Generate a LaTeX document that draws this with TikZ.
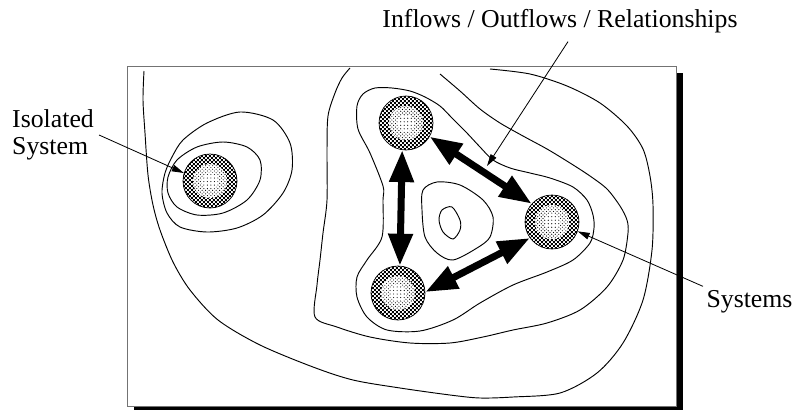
\documentclass[tikz,border=0pt]{standalone}
\usepackage{fontspec}
\setmainfont{Liberation Serif}
\usetikzlibrary{arrows.meta,patterns}
\pgfdeclarepatternformonly{finechecker}{\pgfpointorigin}{\pgfqpoint{3.4pt}{3.4pt}}{\pgfqpoint{3.4pt}{3.4pt}}{
  \pgfpathrectangle{\pgfpointorigin}{\pgfqpoint{1.7pt}{1.7pt}}
  \pgfpathrectangle{\pgfqpoint{1.7pt}{1.7pt}}{\pgfqpoint{1.7pt}{1.7pt}}
  \pgfusepath{fill}}

\begin{document}
\begin{tikzpicture}[x=0.3mm,y=-0.3mm,
  sys/.style={circle,draw,line width=0.6pt,minimum size=16.2mm,inner sep=0pt,pattern=finechecker,
    path picture={\fill[white] (path picture bounding box.center) circle (5.1mm);
      \fill[pattern=crosshatch dots] (path picture bounding box.center) circle (5.1mm);
      \fill[white] (path picture bounding box.center) circle (2.6mm);
      \fill[pattern=dots] (path picture bounding box.center) circle (2.6mm);}},
  flow/.style={{Triangle[length=9.6mm,width=7mm]}-{Triangle[length=9.6mm,width=7mm]},line width=2.1mm},
  ptr/.style={-{Triangle[length=3.6mm,width=2mm]},line width=0.7pt},
  isoline/.style={line width=0.8pt},
  lbl/.style={font=\fontsize{22}{23}\selectfont}]
\useasboundingbox (0,0) rectangle (800,410);
\fill (134,73) rectangle (683,410);
\draw[black!55,line width=0.8pt,fill=white] (127,66) rectangle (676,406);
\draw[isoline] plot[smooth] coordinates {(144,71) (143,100) (145,133) (148,175) (153,205) (160,230) (173,262) (190,290) (218,320) (260,345) (313,367) (353,380) (400,388) (450,395) (480,398) (513,397) (560,393) (597,373) (623,343) (643,300) (652,250) (653,205) (650,176) (643,149) (627,126) (600,103) (567,86) (530,74) (490,69)};
\draw[isoline] plot[smooth cycle] coordinates {(240,112) (207,123) (183,140) (172,157) (165,173) (162,193) (167,213) (180,227) (207,232) (237,228) (263,215) (283,193) (292,170) (290,143) (273,120)};
\draw[isoline] plot[smooth cycle] coordinates {(168,177) (177,160) (197,147) (223,142) (247,147) (260,160) (260,180) (247,200) (223,213) (197,215) (177,207) (168,193)};
\draw[isoline] plot[smooth] coordinates {(350,68) (342,78) (335,93) (328,116) (327,150) (327,200) (323,233) (320,260) (317,285) (315,317) (337,327) (370,337) (410,343) (450,343) (483,337) (513,330) (547,323) (580,310) (607,287) (623,260) (628,233) (627,220) (620,206) (607,189) (590,176) (570,163) (547,149) (523,136) (500,123) (480,109) (460,91) (440,74)};
\draw[isoline] plot[smooth cycle] coordinates {(375,88) (392,88) (410,91) (425,97) (440,106) (452,118) (466,132) (480,147) (493,160) (510,168) (530,173) (550,178) (573,187) (587,200) (593,215) (594,228) (590,243) (573,260) (547,272) (513,285) (480,303) (453,320) (420,331) (387,330) (367,317) (357,297) (357,277) (367,260) (382,237) (383,200) (383,186) (370,153) (358,129) (357,106) (363,94)};
\draw[isoline] plot[smooth cycle] coordinates {(423,190) (437,182) (460,185) (483,200) (493,217) (490,237) (477,248) (453,260) (437,253) (425,237) (422,210)};
\draw[isoline] plot[smooth cycle] coordinates {(442,210) (452,207) (460,220) (460,230) (453,239) (443,232) (439,220)};
\node[sys] (iso) at (210,181) {};
\node[sys] (sa) at (406,123) {};
\node[sys] (sb) at (552,222) {};
\node[sys] (sc) at (398,293) {};
\draw[flow] (sa.262) -- (sc.86);
\draw[flow] (sa.330) -- (sb.138);
\draw[flow] (sb.216) -- (sc.2);
\node[lbl,anchor=base] (inout) at (560,27) {Inflows / Outflows / Relationships};
\node[lbl,align=left,anchor=west,inner sep=0pt] (isolbl) at (12,135) {Isolated\\System};
\node[lbl,anchor=base west,inner sep=1mm] (syslbl) at (703,307) {Systems};
\coordinate (hit) at (487,166);
\draw[ptr] ([xshift=2.4mm,yshift=-1.5mm]inout.south) -- (hit);
\draw[ptr] ([xshift=1.5mm]isolbl.east) -- (iso.163);
\draw[ptr] (syslbl.north west) -- (sb.340);
\end{tikzpicture}
\end{document}
